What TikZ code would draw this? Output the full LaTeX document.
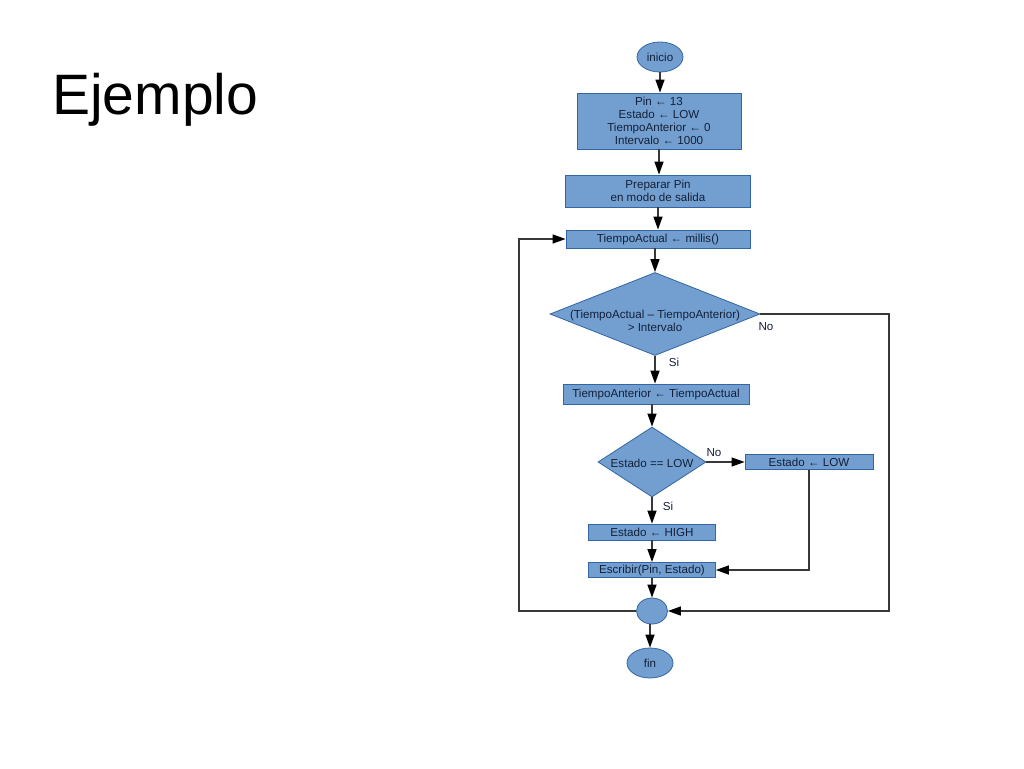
\documentclass[tikz,border=0pt]{standalone}
\usepackage{fontspec}
\setmainfont{Liberation Sans}
\usetikzlibrary{shapes.geometric,arrows.meta}
\definecolor{boxfill}{HTML}{729FCF}
\definecolor{boxline}{HTML}{3465A4}
\definecolor{boxtext}{HTML}{14203A}
\definecolor{conn}{HTML}{383838}
\begin{document}
\begin{tikzpicture}[x=1pt,y=-1pt,
  base/.style={draw=boxline,fill=boxfill,line width=0.8pt,text=boxtext,font=\fontsize{11.6}{13.2}\selectfont,inner sep=0pt,align=center},
  procbox/.style={base,rectangle},
  term/.style={base,ellipse},
  decis/.style={base,diamond},
  lbl/.style={text=boxtext,font=\fontsize{11.6}{13.2}\selectfont,inner sep=0pt},
  flow/.style={draw=conn,line width=1.3pt,-{Triangle[width=9pt,length=13pt,color=black]}}
]
\useasboundingbox (0,0) rectangle (1024,768);
\fill[white] (0,0) rectangle (1024,768);

\node[anchor=west,font=\fontsize{57}{60}\selectfont,inner sep=0pt] (title) at (52,100) {Ejemplo};

\node[term,minimum width=46pt,minimum height=30pt] (inicio) at (660,57) {inicio};
\node[procbox,minimum width=164pt,minimum height=56pt] (init) at (659,121) {Pin ← 13\\Estado ← LOW\\TiempoAnterior ← 0\\Intervalo ← 1000};
\node[procbox,minimum width=185pt,minimum height=32pt] (prep) at (658,191) {Preparar Pin\\en modo de salida};
\node[procbox,minimum width=184pt,minimum height=18pt] (tact) at (658,239) {TiempoActual ← millis()};
\node[decis,minimum width=210pt,minimum height=83pt] (d1) at (655,314) {};
\node[lbl,align=center] (d1t) at (655,321) {(TiempoActual – TiempoAnterior)\\> Intervalo};
\node[procbox,minimum width=186pt,minimum height=20pt] (tant) at (656,394) {TiempoAnterior ← TiempoActual};
\node[decis,minimum width=108pt,minimum height=70pt] (d2) at (652,462) {};
\node[lbl] (d2t) at (652,463) {Estado == LOW};
\node[procbox,minimum width=128pt,minimum height=15pt] (elow) at (809,462) {Estado ← LOW};
\node[procbox,minimum width=127pt,minimum height=16pt] (ehigh) at (652,532) {Estado ← HIGH};
\node[procbox,minimum width=127pt,minimum height=15pt] (escr) at (652,570) {Escribir(Pin, Estado)};
\node[term,minimum width=31pt,minimum height=26pt] (merge) at (652,611) {};
\node[term,minimum width=46pt,minimum height=30pt] (fin) at (650,663) {fin};

\coordinate (r1) at (889,314);
\coordinate (r2) at (889,611);
\coordinate (l1) at (519,611);
\coordinate (l2) at (519,239);
\coordinate (e1) at (809,570);

\draw[flow] (inicio.south) -- (inicio.south |- init.north);
\draw[flow] (init.south) -- (init.south |- prep.north);
\draw[flow] (prep.south) -- (prep.south |- tact.north);
\draw[flow] (tact.south -| d1.north) -- (d1.north);
\draw[flow] (d1.south) -- (d1.south |- tant.north);
\draw[flow] (tant.south -| d2.north) -- (d2.north);
\draw[flow] (d2.east) -- (elow.west);
\draw[flow] (d2.south) -- (ehigh);
\draw[flow] (ehigh) -- (escr);
\draw[flow] (elow.south) -- (e1) -- (escr.east);
\draw[flow] (escr) -- (merge);
\draw[flow] (merge.south -| fin.north) -- (fin.north);
\draw[flow] (d1.east) -- (r1) -- (r2) -- (merge.east);
\draw[flow] (merge.west) -- (l1) -- (l2) -- (tact.west);

\node[lbl] (no1) at (766,327) {No};
\node[lbl] (si1) at (674,362) {Si};
\node[lbl] (no2) at (714,453) {No};
\node[lbl] (si2) at (668,506) {Si};
\end{tikzpicture}
\end{document}
